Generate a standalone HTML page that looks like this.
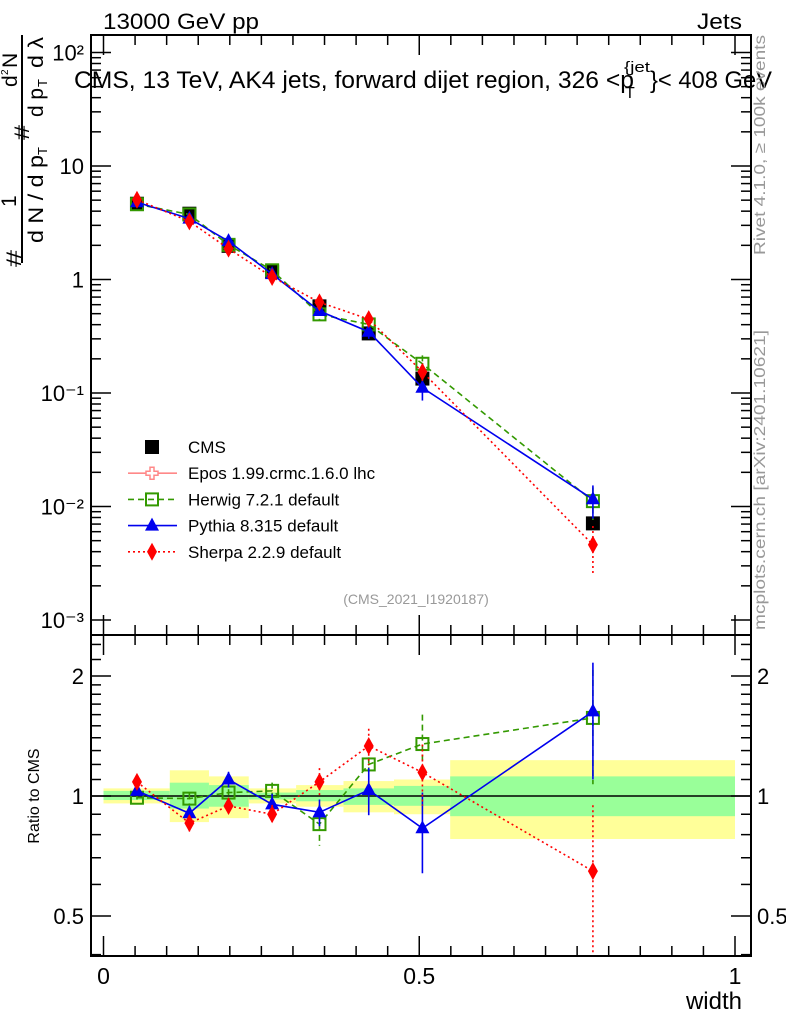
<!DOCTYPE html>
<html><head><meta charset="utf-8"><style>
html,body{margin:0;padding:0;background:#fff;}
svg{display:block;font-family:"Liberation Sans",sans-serif;}
</style></head><body>
<svg id="c" width="786" height="1024" viewBox="0 0 786 1024" xmlns="http://www.w3.org/2000/svg">
<g id="bands"></g>
<g id="ticks"></g>
<g id="series"></g>
<rect x="91" y="35" width="660" height="600" fill="none" stroke="#000" stroke-width="2"/>
<rect x="91" y="635" width="660" height="321" fill="none" stroke="#000" stroke-width="2"/>
<text x="103" y="29" font-size="22" textLength="156" lengthAdjust="spacingAndGlyphs">13000 GeV pp</text>
<text x="697" y="29" font-size="22" textLength="45" lengthAdjust="spacingAndGlyphs">Jets</text>
<g font-size="24">
<text x="74" y="88" textLength="560" lengthAdjust="spacingAndGlyphs">CMS, 13 TeV, AK4 jets, forward dijet region, 326 &lt;p</text>
<text x="625" y="98" font-size="16">T</text>
<text x="624" y="72" font-size="15" textLength="26" lengthAdjust="spacingAndGlyphs">{jet</text>
<text x="650" y="88" textLength="122" lengthAdjust="spacingAndGlyphs">}&lt; 408 GeV</text>
</g>
<text x="416" y="604" font-size="14" fill="#999" text-anchor="middle">(CMS_2021_I1920187)</text>
<text transform="translate(765,255) rotate(-90)" font-size="16" fill="#999" textLength="220" lengthAdjust="spacingAndGlyphs">Rivet 4.1.0, ≥ 100k events</text>
<text transform="translate(765,630) rotate(-90)" font-size="16" fill="#999" textLength="300" lengthAdjust="spacingAndGlyphs">mcplots.cern.ch [arXiv:2401.10621]</text>
<g font-size="21">
<line x1="22" y1="35" x2="22" y2="263" stroke="#000" stroke-width="2"/>
<text transform="translate(21,267) rotate(-90)" textLength="17" lengthAdjust="spacingAndGlyphs">#</text>
<text transform="translate(16,207) rotate(-90)">1</text>
<text transform="translate(43,243) rotate(-90)" textLength="88" lengthAdjust="spacingAndGlyphs">d N / d p</text>
<text transform="translate(47,155) rotate(-90)" font-size="13">T</text>
<text transform="translate(29,140) rotate(-90)" textLength="15" lengthAdjust="spacingAndGlyphs">#</text>
<text transform="translate(17,87) rotate(-90)">d</text>
<text transform="translate(8,75) rotate(-90)" font-size="10">2</text>
<text transform="translate(17,68) rotate(-90)">N</text>
<text transform="translate(43,117) rotate(-90)" textLength="29" lengthAdjust="spacingAndGlyphs">d p</text>
<text transform="translate(47,87) rotate(-90)" font-size="13">T</text>
<text transform="translate(43,68) rotate(-90)" textLength="31" lengthAdjust="spacingAndGlyphs">d λ</text>
</g>
<text transform="translate(39,796) rotate(-90)" font-size="16" text-anchor="middle">Ratio to CMS</text>
<text x="742" y="1009" font-size="24" text-anchor="end">width</text>
<g id="legend" font-size="17"></g>
</svg>
<script>
const binEdges=[0,0.105,0.167,0.23,0.305,0.38,0.46,0.549,1.0];
const xCenters=[0.053,0.136,0.198,0.267,0.342,0.42,0.505,0.775];
const cmsValues=[4.65,3.8,1.98,1.17,0.58,0.335,0.134,0.0071];
const statUp=[1.03,1.08,1.065,1.02,1.035,1.045,1.06,1.12];
const statDown=[0.977,0.93,0.94,0.98,0.97,0.95,0.945,0.89];
const totUp=[1.045,1.16,1.12,1.045,1.065,1.09,1.1,1.23];
const totDown=[0.958,0.86,0.88,0.958,0.94,0.91,0.9,0.78];
const herwigRatio=[0.99,0.985,1.02,1.03,0.85,1.2,1.35,1.57];
const herwigErr=[0.01,0.03,0.02,0.05,0.1,0.05,0.25,0.5];
const pythiaRatio=[1.03,0.905,1.1,0.953,0.91,1.035,0.83,1.63];
const pythiaErr=[0.01,0.04,0.05,0.06,0.07,0.14,0.19,0.53];
const sherpaRatio=[1.085,0.855,0.944,0.9,1.085,1.335,1.146,0.648];
const sherpaErr=[0.02,0.04,0.04,0.05,0.09,0.14,0.2,0.3];
const mainTicks=["10\u207B\u00B3","10\u207B\u00B2","10\u207B\u00B9","1","10","10\u00B2"];
const ratioTicks=[0.5,1,2];
const xTicks=["0","0.5","1"];

const NS="http://www.w3.org/2000/svg";
const L=91,R=751;
const X=v=>103.5+v*631.5;
const Y=v=>620-(Math.log10(v)+3)*113.5;
const YR=v=>796-Math.log2(v)*120;
function mk(tag,attrs,parent){const e=document.createElementNS(NS,tag);for(const k in attrs)e.setAttribute(k,attrs[k]);parent.appendChild(e);return e;}
const bands=document.getElementById('bands'),ticks=document.getElementById('ticks'),series=document.getElementById('series'),legend=document.getElementById('legend');

for(let i=0;i<cmsValues.length;i++){
  const x0=X(binEdges[i]),x1=X(binEdges[i+1]);
  const y=mk('rect',{x:x0,y:YR(totUp[i]),width:x1-x0,height:YR(totDown[i])-YR(totUp[i]),fill:'#ffff99'},bands);
  
  
  const g=mk('rect',{x:x0,y:YR(statUp[i]),width:x1-x0,height:YR(statDown[i])-YR(statUp[i]),fill:'#99ff99'},bands);
  
  
}
mk('line',{x1:L,x2:R,y1:YR(1),y2:YR(1),stroke:'#000','stroke-width':1.5},bands);

for(let k=0;k<=20;k++){
  const v=k*0.05,x=X(v),maj=(k%10==0),len=maj?20:10;
  for(const [top,bot] of [[35,635],[635,956]]){
    mk('line',{x1:x,x2:x,y1:bot,y2:bot-len,stroke:'#000','stroke-width':1.5},ticks);
    mk('line',{x1:x,x2:x,y1:top,y2:top+len,stroke:'#000','stroke-width':1.5},ticks);
  }
}
xTicks.forEach((t,i)=>{const e=mk('text',{x:X(i*0.5),y:984,'font-size':23,'text-anchor':'middle'},ticks);e.textContent=t;
  
  });
for(let d=-3;d<=2;d++){
  for(let m=1;m<=9;m++){
    const v=m*Math.pow(10,d),y=Y(v);if(y<36||y>634)continue;
    const len=m==1?20:10;
    mk('line',{x1:L,x2:L+len,y1:y,y2:y,stroke:'#000','stroke-width':1.5},ticks);
    mk('line',{x1:R,x2:R-len,y1:y,y2:y,stroke:'#000','stroke-width':1.5},ticks);
  }
}
mainTicks.forEach((t,i)=>{const e=mk('text',{x:84,y:Y(Math.pow(10,i-3))+8,'font-size':22,'text-anchor':'end'},ticks);e.textContent=t;
  
  });
const rt=[0.4,0.5,0.6,0.7,0.8,0.9,1,1.1,1.2,1.3,1.4,1.5,1.6,1.7,1.8,1.9,2,2.2,2.4];
rt.forEach(v=>{const y=YR(v);const len=ratioTicks.includes(v)?20:10;
  mk('line',{x1:L,x2:L+len,y1:y,y2:y,stroke:'#000','stroke-width':1.5},ticks);
  mk('line',{x1:R,x2:R-len,y1:y,y2:y,stroke:'#000','stroke-width':1.5},ticks);});
ratioTicks.forEach(v=>{
  const a=mk('text',{x:84,y:YR(v)+8,'font-size':22,'text-anchor':'end'},ticks);a.textContent=String(v);
  
  
  const b=mk('text',{x:757,y:YR(v)+8,'font-size':22},ticks);b.textContent=String(v);
  
  });

function marker(type,x,y,color,parent){
  if(type==='square')return mk('rect',{x:x-7,y:y-7,width:14,height:14,fill:'#000'},parent);
  if(type==='open')return mk('rect',{x:x-6,y:y-6,width:12,height:12,fill:'none',stroke:color,'stroke-width':2},parent);
  if(type==='tri')return mk('path',{d:`M${x},${y-8}L${x+7},${y+5}L${x-7},${y+5}Z`,fill:color},parent);
  if(type==='dia')return mk('path',{d:`M${x},${y-9}L${x+5},${y}L${x},${y+9}L${x-5},${y}Z`,fill:color},parent);
  if(type==='cross')return mk('path',{d:`M${x-2},${y-6}h4v4h4v4h-4v4h-4v-4h-4v-4h4Z`,fill:'#fff',stroke:color,'stroke-width':1.5},parent);
}
const models=[
 {name:'herwig',ratio:herwigRatio,err:herwigErr,color:'#339900',dash:'6,4',m:'open'},
 {name:'pythia',ratio:pythiaRatio,err:pythiaErr,color:'#0000ee',dash:'',m:'tri'},
 {name:'sherpa',ratio:sherpaRatio,err:sherpaErr,color:'#ff0000',dash:'2,3',m:'dia'}
];
const cg=mk('g',{},series);


cmsValues.forEach((v,i)=>{const p=marker('square',X(xCenters[i]),Y(v),'#000',cg);
  
  });
models.forEach(md=>{
  const g=mk('g',{},series);
  
  
  const mainPts=md.ratio.map((r,i)=>[X(xCenters[i]),Y(r*cmsValues[i])]);
  const rPts=md.ratio.map((r,i)=>[X(xCenters[i]),YR(r)]);
  const a={fill:'none',stroke:md.color,'stroke-width':1.6};if(md.dash)a['stroke-dasharray']=md.dash;
  const l1=mk('polyline',Object.assign({points:mainPts.map(p=>p.join(',')).join(' ')},a),g);
  
  
  const l2=mk('polyline',Object.assign({points:rPts.map(p=>p.join(',')).join(' ')},a),g);
  
  
  md.ratio.forEach((r,i)=>{
    const x=X(xCenters[i]);const up=r+md.err[i],dn=Math.max(r-md.err[i],0.35);
    const ea=Object.assign({x1:x,x2:x},a);
    mk('line',Object.assign({},ea,{y1:Math.max(YR(up),636),y2:Math.min(YR(dn),955)}),g);
    mk('line',Object.assign({},ea,{y1:Y((r+md.err[i])*cmsValues[i]),y2:Y(Math.max(r-md.err[i],0.3)*cmsValues[i])}),g);
    const p1=marker(md.m,x,Y(r*cmsValues[i]),md.color,g);
    
    
    const p2=marker(md.m,x,YR(r),md.color,g);
    
    
  });
});
const leg=[['CMS','square','#000',''],['Epos 1.99.crmc.1.6.0 lhc','cross','#ff8888',''],['Herwig 7.2.1 default','open','#339900','6,4'],['Pythia 8.315 default','tri','#0000ee',''],['Sherpa 2.2.9 default','dia','#ff0000','2,3']];
leg.forEach((e,i)=>{
  const y=447+i*26.2;
  const g=mk('g',{},legend);
  
  
  if(i>0){const a={x1:128,x2:177,y1:y,y2:y,stroke:e[2],'stroke-width':1.6};if(e[3])a['stroke-dasharray']=e[3];mk('line',a,g);}
  marker(e[1],152,y,e[2],g);
  const t=mk('text',{x:188,y:y+6},g);t.textContent=e[0];
});
</script>
</body></html>
